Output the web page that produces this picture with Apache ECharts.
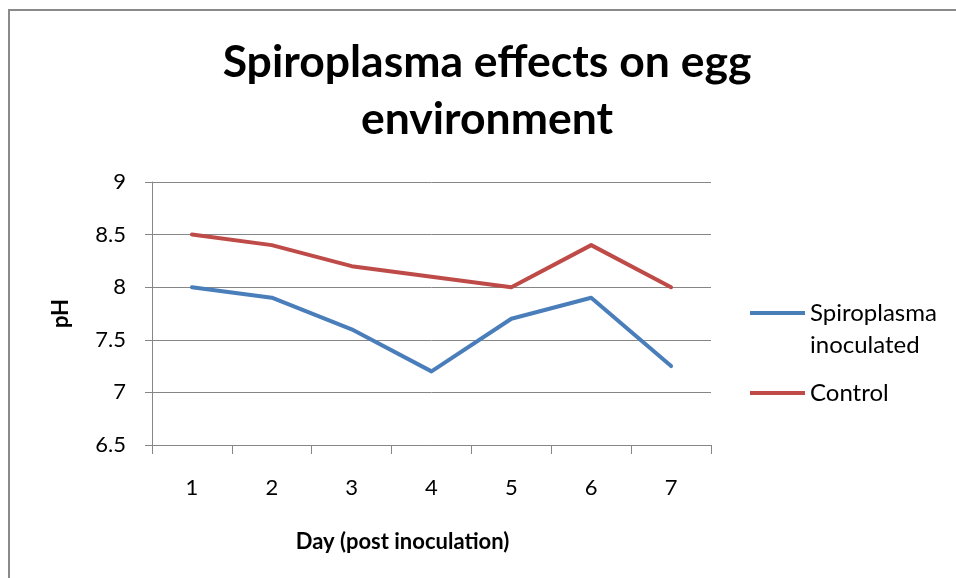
<!DOCTYPE html>
<html>
<head>
<meta charset="utf-8">
<script src="https://cdn.jsdelivr.net/npm/echarts@6/dist/echarts.min.js"></script>
<style>html,body{margin:0;padding:0;background:#fff;}#c{width:956px;height:578px;}</style>
</head>
<body>
<div id="c"></div>
<script>
const days = ['1', '2', '3', '4', '5', '6', '7'];
const spiroplasma = [8.0, 7.9, 7.6, 7.2, 7.7, 7.9, 7.25];
const control = [8.5, 8.4, 8.2, 8.1, 8.0, 8.4, 8.0];
const yTicks = { min: 6.5, max: 9, interval: 0.5 };

const chart = echarts.init(document.getElementById('c'), null, { renderer: 'canvas' });
const FONT = 'Lato';
const axisGray = '#868686';
chart.setOption({
  backgroundColor: '#fff',
  animation: false,
  graphic: [
    { type: 'line', z: -1, shape: { x1: 8, y1: 10, x2: 960, y2: 10 }, style: { stroke: '#8a8a8a', lineWidth: 2, lineCap: 'butt' } },
    { type: 'line', z: -1, shape: { x1: 9, y1: 9, x2: 9, y2: 590 }, style: { stroke: '#8a8a8a', lineWidth: 2, lineCap: 'butt' } }
  ],
  title: {
    text: 'Spiroplasma effects on egg\nenvironment',
    left: 487, top: 34, textAlign: 'center', padding: 0,
    textStyle: { fontFamily: FONT, fontWeight: 'bold', fontSize: 44.5, lineHeight: 57, color: '#000' }
  },
  legend: {
    orient: 'vertical', left: 750, top: 265, padding: 0,
    itemWidth: 55, itemHeight: 4, itemGap: 16, icon: 'rect',
    data: ['Spiroplasma inoculated', 'Control'],
    formatter: n => n === 'Spiroplasma inoculated' ? '\nSpiroplasma\ninoculated' : n,
    textStyle: { fontFamily: FONT, fontSize: 24, lineHeight: 32, color: '#000' }
  },
  grid: { left: 152, top: 182, right: 245, bottom: 133, containLabel: false },
  xAxis: {
    type: 'category', data: days, boundaryGap: true,
    name: 'Day (post inoculation)', nameLocation: 'middle', nameGap: 86,
    nameTextStyle: { fontFamily: FONT, fontWeight: 'bold', fontSize: 22, color: '#000', padding: [0, 58, 0, 0] },
    axisLine: { lineStyle: { color: axisGray, width: 1 } },
    axisTick: { show: true, length: 9, alignWithLabel: false, lineStyle: { color: axisGray } },
    axisLabel: { margin: 32, fontFamily: FONT, fontSize: 22, color: '#000' },
    splitLine: { show: false }
  },
  yAxis: {
    type: 'value', min: yTicks.min, max: yTicks.max, interval: yTicks.interval,
    name: 'pH', nameLocation: 'middle', nameGap: 80, nameRotate: 90,
    nameTextStyle: { fontFamily: FONT, fontWeight: 'bold', fontSize: 22, color: '#000' },
    axisLine: { show: true, lineStyle: { color: axisGray, width: 1 } },
    axisTick: { show: true, length: 7, lineStyle: { color: axisGray } },
    axisLabel: { margin: 26, fontFamily: FONT, fontSize: 22, color: '#000' },
    splitLine: { show: true, lineStyle: { color: axisGray, width: 1 } }
  },
  series: [
    { name: 'Spiroplasma inoculated', type: 'line', data: spiroplasma, showSymbol: false, symbol: 'none',
      color: '#4a7ebb', lineStyle: { width: 4, color: '#4a7ebb', cap: 'round', join: 'round' } },
    { name: 'Control', type: 'line', data: control, showSymbol: false, symbol: 'none',
      color: '#be4b48', lineStyle: { width: 4, color: '#be4b48', cap: 'round', join: 'round' } }
  ]
});
</script>
</body>
</html>
